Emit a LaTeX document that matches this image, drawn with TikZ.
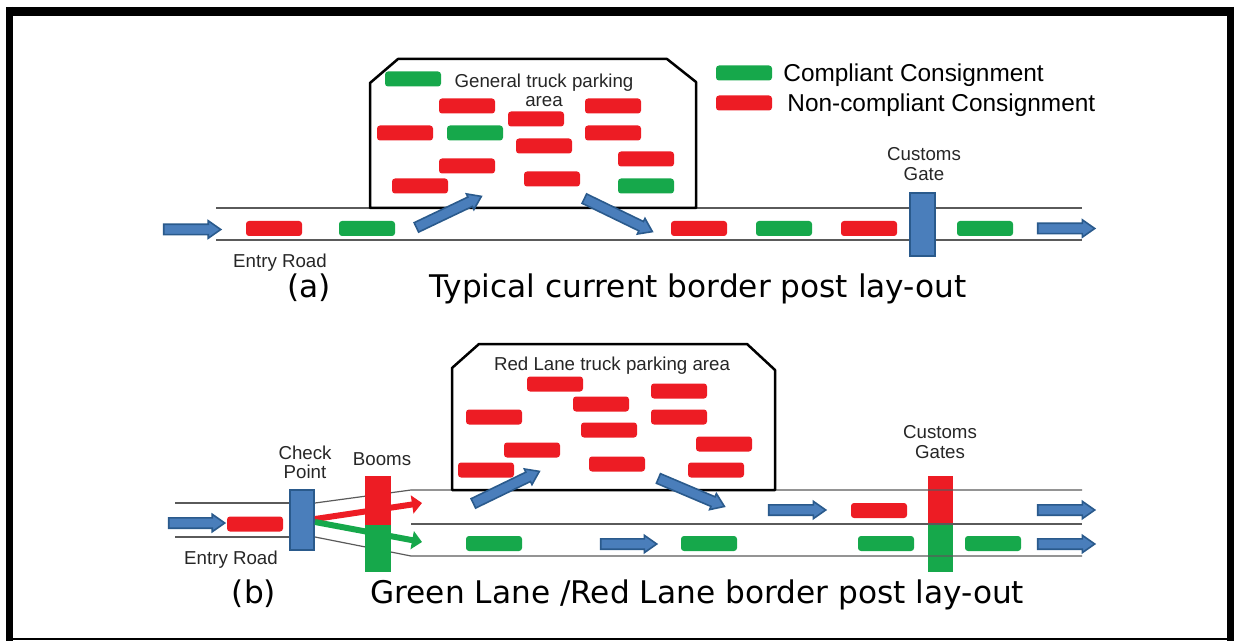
\documentclass[tikz,border=0pt]{standalone}
\usepackage{fontspec}
\setmainfont{Liberation Sans}
\newfontfamily\titlefont{DejaVu Sans}
\usepackage{tikz}
\usetikzlibrary{calc,positioning,shapes.arrows,arrows.meta}
\definecolor{truckred}{HTML}{ED1C24}
\definecolor{truckgreen}{HTML}{16A84B}
\definecolor{gateblue}{HTML}{4A7EBB}
\definecolor{gateedge}{HTML}{2A5A8C}
\definecolor{roadgray}{HTML}{5A5A5A}
\tikzset{
  truck/.style={rectangle, rounded corners=1.5pt, minimum width=28pt,
    minimum height=7.5pt, inner sep=0pt},
  redtruck/.style={truck, fill=truckred},
  greentruck/.style={truck, fill=truckgreen},
  road/.style={draw=roadgray, line width=0.6pt},
  lot/.style={draw=black, line width=1.25pt, line join=round},
  flow/.style={single arrow, fill=gateblue, draw=gateedge, line width=0.8pt,
    minimum width=8.5pt, single arrow head extend=1.75pt,
    single arrow tip angle=70, inner xsep=0pt, inner ysep=2.2pt,
    minimum height=28.5pt},
  gate/.style={rectangle, fill=gateblue, draw=gateedge, line width=1pt,
    minimum width=12.5pt, inner sep=0pt},
  boom/.style={rectangle, minimum width=13pt, inner sep=0pt},
  lane/.style={line width=3pt, -{Triangle[length=5pt,width=9pt]}},
  lbl/.style={font=\fontsize{9.35}{9.6}\selectfont, text=black!85,
    align=center, inner sep=0pt},
  legendtxt/.style={font=\fontsize{12.2}{14}\selectfont, anchor=base west,
    inner sep=0pt},
  title/.style={font=\titlefont\fontsize{15.6}{18}\selectfont,
    anchor=base west, inner sep=0pt},
}
\newcommand{\FlowArrow}[3]{%
  % #1 = name, #2 = tail, #3 = tip
  \path let \p1=($#3-#2$), \n1={atan2(\y1,\x1)}, \n2={veclen(\x1,\y1)} in
    node[flow, minimum height=\n2, rotate=\n1] (#1) at ($#2!0.5!#3$) {};
}

\begin{document}
\begin{tikzpicture}[x=0.5pt, y=-0.5pt, line cap=butt]
  \useasboundingbox (0,0) rectangle (1234,641);
  % frame
  \draw[line width=4.5pt] (6,11.5) -- (1234,11.5);
  \draw[line width=3.5pt] (9.5,7) -- (9.5,641);
  \draw[line width=3.5pt] (1230.5,7) -- (1230.5,641);
  \draw[line width=1.2pt] (6,639) -- (1234,639);

  %% (a) typical current layout
  \draw[road] (216,208) -- (1082,208);
  \draw[road] (216,240) -- (1082,240);
  \draw[lot] (370,208) -- (370,83) -- (398,59) -- (667,59) -- (696,82)
    -- (696,208) -- cycle;

  \foreach \x/\y [count=\i] in {467/106, 405/133, 536/119, 544/146, 467/166,
      420/186, 552/179, 613/106, 613/133, 646/159}
    \node[redtruck] (pa-r\i) at (\x,\y) {};
  \foreach \x/\y [count=\i] in {413/79, 475/133, 646/186}
    \node[greentruck] (pa-g\i) at (\x,\y) {};
  \node[lbl] (parkA) at (544,90) {General truck parking\\area};

  % legend
  \node[greentruck] (key-g) at (744,73) {};
  \node[redtruck] (key-r) at (744,103) {};
  \node[legendtxt] (key-gt) at (783,82) {Compliant Consignment};
  \node[legendtxt] (key-rt) at (787,112) {Non-compliant Consignment};

  % road a
  \foreach \x [count=\i] in {274, 699, 869}
    \node[redtruck] (ra-r\i) at (\x,228.5) {};
  \foreach \x [count=\i] in {367, 784, 985}
    \node[greentruck] (ra-g\i) at (\x,228.5) {};
  \node[gate, minimum height=31.5pt] (gateA) at (922.5,224.5) {};
  \node[lbl] (gateAlbl) at (924,164) {Customs\\Gate};

  \FlowArrow{inA}{(160,229.5)}{(217,229.5)}
  \FlowArrow{upA}{(413,229)}{(478,198)}
  \FlowArrow{downA}{(581,197)}{(649,230)}
  \FlowArrow{outA}{(1034,228.5)}{(1091,228.5)}

  \node[lbl, anchor=base] (entryA) at (280,268) {Entry Road};
  \node[title, anchor=base] (capA) at (309,298) {(a)};
  \node[title] (titleA) at (429,298) {Typical current border post lay-out};

  %% (b) green lane / red lane layout
  \node[boom, fill=truckred, minimum width=12.5pt, minimum height=24pt]
    (gateBr) at (940.5,500) {};
  \node[boom, fill=truckgreen, minimum width=12.5pt, minimum height=24pt]
    (gateBg) at (940.5,548) {};
  \node[lbl] (gateBlbl) at (940,442) {Customs\\Gates};

  \draw[road] (175,503) -- (289,503);
  \draw[road] (175,537) -- (289,537);
  \draw[road] (315,503) -- (411,490) -- (1082,490);
  \draw[road] (315,537) -- (411,556) -- (1082,556);
  \draw[road] (411,524) -- (1082,524);
  \draw[lot] (452,490) -- (452,368) -- (479,344) -- (747,344) -- (775,370)
    -- (775,490) -- cycle;

  \foreach \x/\y [count=\i] in {555/384, 601/404, 494/417, 609/430, 532/450,
      486/470, 617/464, 679/391, 679/417, 724/444, 716/470}
    \node[redtruck] (pb-r\i) at (\x,\y) {};
  \node[lbl] (parkB) at (612,366) {Red Lane truck parking area};

  \node[redtruck] (rb-r1) at (255,524) {};
  \node[redtruck] (rb-r2) at (879,510.5) {};
  \foreach \x [count=\i] in {494, 709, 886, 993}
    \node[greentruck] (rb-g\i) at (\x,543.5) {};

  \node[gate, minimum height=30pt, minimum width=12pt] (cp) at (302,520) {};
  \node[lbl] (cplbl) at (305,462) {Check\\Point};
  \node[boom, fill=truckred, minimum height=24.5pt] (boomR) at (377.5,500.5) {};
  \node[boom, fill=truckgreen, minimum height=23.5pt] (boomG) at (377.5,548.5) {};
  \node[lbl] (boomlbl) at (382,459) {Booms};

  \coordinate (redtip) at (422,503);
  \coordinate (greentip) at (422,542);
  \draw[lane, truckred] ($(cp.east)+(0,-1)$) -- (redtip);
  \draw[lane, truckgreen] ($(cp.east)+(0,2)$) -- (greentip);

  \FlowArrow{inB}{(165,523)}{(221,523)}
  \FlowArrow{upB}{(470,505)}{(536,473)}
  \FlowArrow{downB}{(655,477)}{(721,505)}
  \FlowArrow{midB}{(765,510)}{(822,510)}
  \FlowArrow{lowB}{(597,544)}{(653,544)}
  \FlowArrow{outBr}{(1034,510)}{(1091,510)}
  \FlowArrow{outBg}{(1034,544)}{(1091,544)}

  \node[lbl, anchor=base] (entryB) at (231,564) {Entry Road};
  \node[title, anchor=base] (capB) at (254,603) {(b)};
  \node[title] (titleB) at (370,603) {Green Lane /Red Lane border post lay-out};
\end{tikzpicture}
\end{document}
